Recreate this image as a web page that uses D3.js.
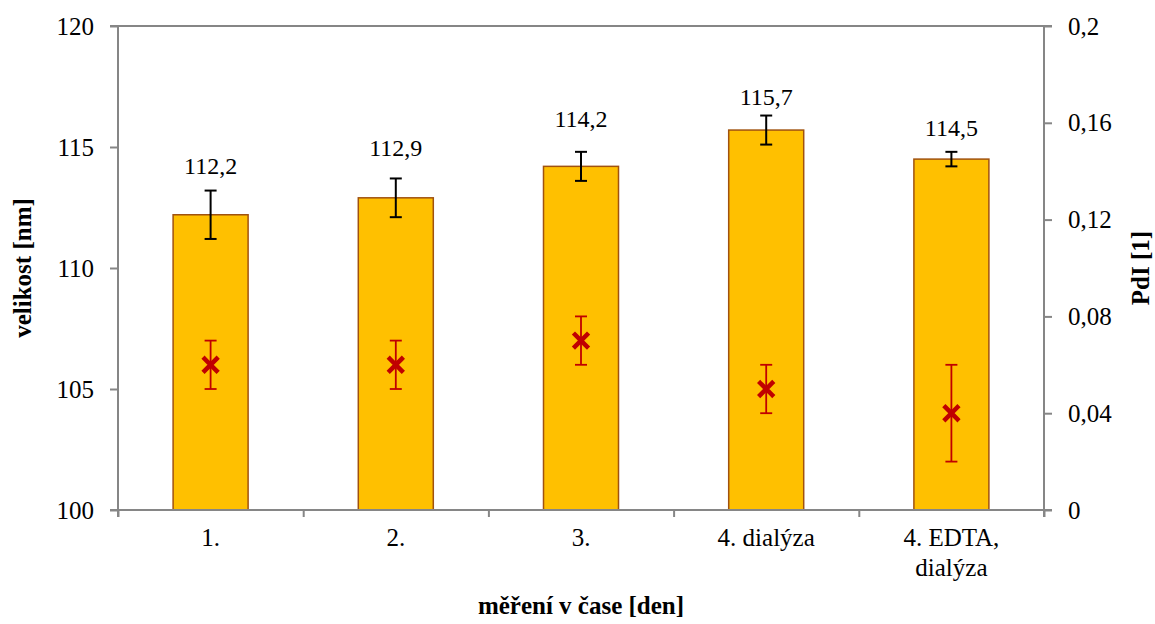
<!DOCTYPE html>
<html><head><meta charset="utf-8">
<script src="https://cdn.jsdelivr.net/npm/d3@7"></script>
<style>
body{margin:0;background:#fff;}
svg text{font-family:"Liberation Serif","Times New Roman",serif;fill:#000;}
</style></head>
<body><svg id="c" width="1155" height="624"></svg>
<script>
const categories = [["1."],["2."],["3."],["4. dialýza"],["4. EDTA,","dialýza"]];
const sizeValues = [112.2, 112.9, 114.2, 115.7, 114.5];
const sizeErrors = [1.0, 0.8, 0.6, 0.6, 0.3];
const sizeLabels = ["112,2","112,9","114,2","115,7","114,5"];
const pdiValues = [0.06, 0.06, 0.07, 0.05, 0.04];
const pdiErrors = [0.01, 0.01, 0.01, 0.01, 0.02];
const leftTicks = [100,105,110,115,120];
const rightTicks = [0,0.04,0.08,0.12,0.16,0.2];
const rightTickLabels = ["0","0,04","0,08","0,12","0,16","0,2"];

const labelLift = [49, 50, 48, 33, 32];

const svg = d3.select("#c");
const L=118, R=1044, T=26, B=510;
const x = d3.scaleBand().domain(d3.range(categories.length)).range([L,R]).paddingInner(0.6).paddingOuter(0.3);
const xs = d3.scaleBand().domain(d3.range(categories.length)).range([L,R]);
const y = d3.scaleLinear().domain([100,120]).range([B,T]);
const y2 = d3.scaleLinear().domain([0,0.2]).range([B,T]);
const axisColor="#868686";

// bars
svg.selectAll("rect.bar").data(sizeValues).enter().append("rect")
 .attr("x",(d,i)=>xs(i)+xs.bandwidth()/2-37.5).attr("width",75)
 .attr("y",d=>y(d)).attr("height",d=>B-y(d))
 .attr("fill","#FFC000").attr("stroke","#A0520F").attr("stroke-width",1.5);

// axes
const gl = svg.append("g").attr("transform",`translate(${L},0)`)
 .call(d3.axisLeft(y).tickValues(leftTicks).tickSize(8).tickPadding(16).tickFormat(d=>d));
const gr = svg.append("g").attr("transform",`translate(${R},0)`)
 .call(d3.axisRight(y2).tickValues(rightTicks).tickSize(8).tickPadding(16).tickFormat((d,i)=>rightTickLabels[i]));
const gb = svg.append("g").attr("transform",`translate(0,${B})`)
 .call(d3.axisBottom(d3.scaleLinear().domain([0,5]).range([L,R])).tickValues([0,1,2,3,4,5]).tickSize(7).tickFormat(""));
[gl,gr,gb].forEach(g=>{
  g.select(".domain").attr("stroke",axisColor).attr("stroke-width",2);
  g.selectAll(".tick line").attr("stroke",axisColor).attr("stroke-width",2);
  g.selectAll("text").style("font-size","25px").attr("fill","#000").attr("font-family","Liberation Serif");
});
gl.select(".domain").attr("d",`M-8,${T}H0V${B}H-8`);
gr.select(".domain").attr("d",`M8,${T}H0V${B}H8`);
gb.select(".domain").attr("d",`M${L},7V0H${R}V7`);
// top border line (plot area top at 120)
svg.append("line").attr("x1",L).attr("x2",R).attr("y1",T).attr("y2",T).attr("stroke",axisColor).attr("stroke-width",2);

// x category labels
categories.forEach((lines,i)=>{
  const t = svg.append("text").attr("x",xs(i)+xs.bandwidth()/2).attr("y",546)
   .attr("text-anchor","middle").style("font-size","25px");
  lines.forEach((ln,j)=>t.append("tspan").attr("x",xs(i)+xs.bandwidth()/2).attr("dy",j?30:0).text(ln));
});

// size error bars
const cx = i=>xs(i)+xs.bandwidth()/2;
sizeValues.forEach((v,i)=>{
  const g=svg.append("g").attr("stroke","#000").attr("stroke-width",2);
  g.append("line").attr("x1",cx(i)).attr("x2",cx(i)).attr("y1",y(v+sizeErrors[i])).attr("y2",y(v-sizeErrors[i]));
  [v+sizeErrors[i],v-sizeErrors[i]].forEach(e=>g.append("line").attr("x1",cx(i)-6).attr("x2",cx(i)+6).attr("y1",y(e)).attr("y2",y(e)));
  svg.append("text").attr("x",cx(i)).attr("y",y(v)-labelLift[i]).attr("dy","0.35em")
    .attr("text-anchor","middle").style("font-size","24px").text(sizeLabels[i]);
});

// pdi error bars + markers
pdiValues.forEach((v,i)=>{
  const g=svg.append("g").attr("stroke","#C00000").attr("stroke-width",1.8);
  g.append("line").attr("x1",cx(i)).attr("x2",cx(i)).attr("y1",y2(v+pdiErrors[i])).attr("y2",y2(v-pdiErrors[i]));
  [v+pdiErrors[i],v-pdiErrors[i]].forEach(e=>g.append("line").attr("x1",cx(i)-6).attr("x2",cx(i)+6).attr("y1",y2(e)).attr("y2",y2(e)));
  const s=6;
  svg.append("path").attr("d",`M${cx(i)-s},${y2(v)-s}L${cx(i)+s},${y2(v)+s}M${cx(i)+s},${y2(v)-s}L${cx(i)-s},${y2(v)+s}`)
    .attr("stroke","#C00000").attr("stroke-width",4.5).attr("stroke-linecap","square");
});

// titles
svg.append("text").attr("transform",`translate(31,${(T+B)/2}) rotate(-90)`).attr("text-anchor","middle")
 .style("font-size","25px").style("font-weight","bold").text("velikost [nm]");
svg.append("text").attr("transform",`translate(1149,${(T+B)/2}) rotate(-90)`).attr("text-anchor","middle")
 .style("font-size","25px").style("font-weight","bold").text("PdI [1]");
svg.append("text").attr("x",(L+R)/2).attr("y",614).attr("text-anchor","middle")
 .style("font-size","25px").style("font-weight","bold").text("měření v čase [den]");
</script></body></html>
